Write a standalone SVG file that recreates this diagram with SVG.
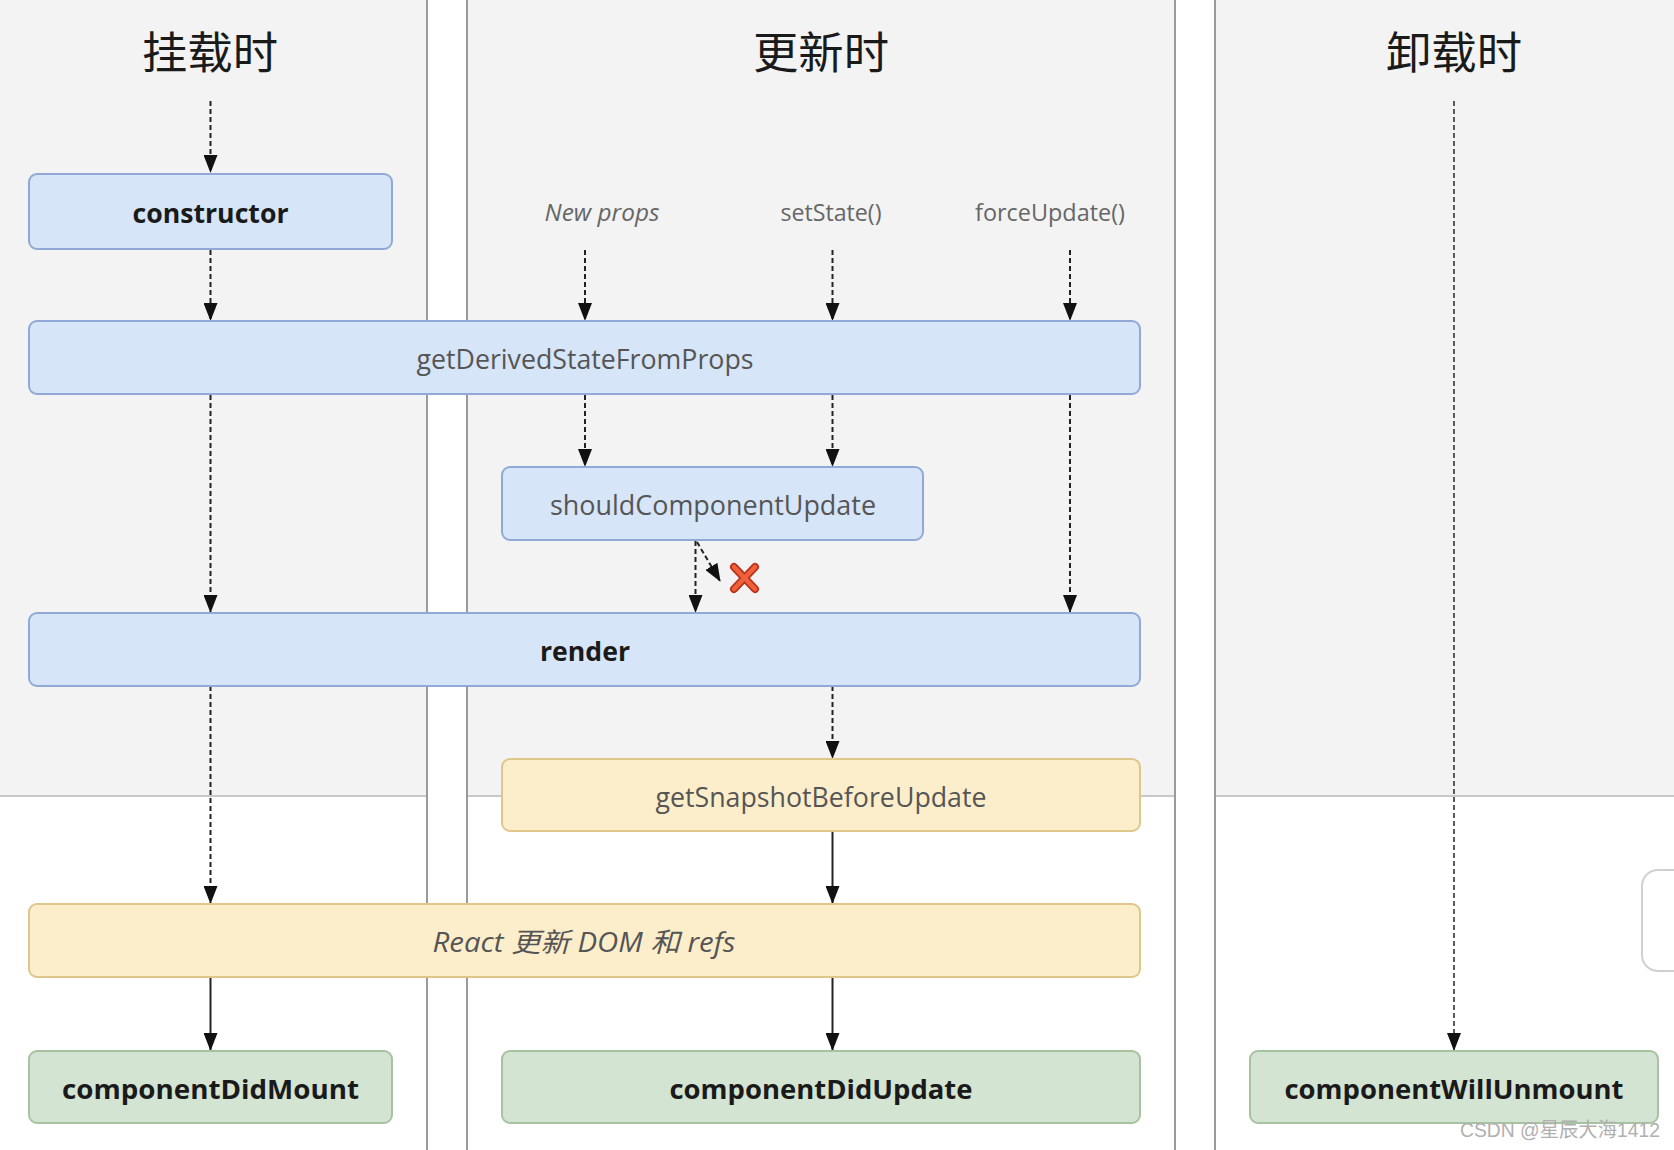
<svg xmlns="http://www.w3.org/2000/svg" width="1674" height="1150" viewBox="0 0 1674 1150">
<defs>
<marker id="ah" markerUnits="userSpaceOnUse" markerWidth="18" markerHeight="14" refX="17" refY="7" orient="auto" viewBox="0 0 18 14">
<path d="M0,0 L18,7 L0,14 Z" fill="#111"/>
</marker>
</defs>
<style>
.bg{fill:#f3f3f3}
.col{stroke:#9a9a9a;stroke-width:2;fill:none}
.hl{stroke:#c8c8c8;stroke-width:2}
.title{font-family:"Noto Sans CJK SC","Noto Sans",sans-serif;font-size:44px;fill:#1a1a1a;text-anchor:middle}
.blue{fill:#d7e5f8;stroke:#90a9d6;stroke-width:2}
.yellow{fill:#fdeecb;stroke:#dfc68a;stroke-width:2}
.green{fill:#d4e4d2;stroke:#a6c2a1;stroke-width:2}
.t{font-family:"Open Sans","Noto Sans","Noto Sans CJK SC",sans-serif;font-size:27px;text-anchor:middle;fill:#555}
.b{font-weight:bold;fill:#1a1a1a}
.i{font-style:italic}
.lbl{font-family:"Open Sans","Noto Sans",sans-serif;font-size:24px;text-anchor:middle;fill:#666}
.dash{stroke:#222;stroke-width:2;stroke-dasharray:5 3;fill:none}
.fdash{stroke:#333;stroke-width:1.6;stroke-dasharray:5 3;fill:none}
.solid{stroke:#222;stroke-width:2;fill:none}
.wm{font-family:"Liberation Sans","Noto Sans CJK SC",sans-serif;font-size:20px;fill:#b0b0b0}
</style>
<rect x="0" y="0" width="1674" height="1150" fill="#ffffff"/>
<g id="background">
<rect class="bg" x="0" y="0" width="427" height="795"/>
<rect class="bg" x="467" y="0" width="708" height="795"/>
<rect class="bg" x="1215" y="0" width="459" height="795"/>
<line class="hl" x1="0" y1="796" x2="427" y2="796"/>
<line class="hl" x1="467" y1="796" x2="1175" y2="796"/>
<line class="hl" x1="1215" y1="796" x2="1674" y2="796"/>
<line class="col" x1="427" y1="0" x2="427" y2="1150"/>
<line class="col" x1="467" y1="0" x2="467" y2="1150"/>
<line class="col" x1="1175" y1="0" x2="1175" y2="1150"/>
<line class="col" x1="1215" y1="0" x2="1215" y2="1150"/>
<rect x="1642" y="870" width="60" height="101" rx="16" fill="#ffffff" stroke="#d0d0d0" stroke-width="2"/>
</g>
<g id="titles">
<text class="title" x="210" y="69" textLength="136" lengthAdjust="spacingAndGlyphs">挂载时</text>
<text class="title" x="821" y="69" textLength="136" lengthAdjust="spacingAndGlyphs">更新时</text>
<text class="title" x="1454" y="69" textLength="136" lengthAdjust="spacingAndGlyphs">卸载时</text>
</g>
<g id="labels">
<text class="lbl i" x="602" y="221" textLength="115" lengthAdjust="spacingAndGlyphs">New props</text>
<text class="lbl" x="831" y="221" textLength="101" lengthAdjust="spacingAndGlyphs">setState()</text>
<text class="lbl" x="1050" y="221" textLength="150" lengthAdjust="spacingAndGlyphs">forceUpdate()</text>
</g>
<g id="connectors">
<line class="dash" x1="210.5" y1="101" x2="210.5" y2="172" marker-end="url(#ah)"/>
<line class="dash" x1="210.5" y1="250" x2="210.5" y2="320" marker-end="url(#ah)"/>
<line class="dash" x1="210.5" y1="395" x2="210.5" y2="612" marker-end="url(#ah)"/>
<line class="dash" x1="210.5" y1="686" x2="210.5" y2="903" marker-end="url(#ah)"/>
<line class="solid" x1="210.5" y1="978" x2="210.5" y2="1050" marker-end="url(#ah)"/>
<line class="dash" x1="585" y1="250" x2="585" y2="320" marker-end="url(#ah)"/>
<line class="dash" x1="585" y1="395" x2="585" y2="466" marker-end="url(#ah)"/>
<line class="dash" x1="832.5" y1="250" x2="832.5" y2="320" marker-end="url(#ah)"/>
<line class="dash" x1="832.5" y1="395" x2="832.5" y2="466" marker-end="url(#ah)"/>
<line class="dash" x1="832.5" y1="686" x2="832.5" y2="758" marker-end="url(#ah)"/>
<line class="solid" x1="832.5" y1="831" x2="832.5" y2="903" marker-end="url(#ah)"/>
<line class="solid" x1="832.5" y1="978" x2="832.5" y2="1050" marker-end="url(#ah)"/>
<line class="dash" x1="1070" y1="250" x2="1070" y2="320" marker-end="url(#ah)"/>
<line class="dash" x1="1070" y1="395" x2="1070" y2="612" marker-end="url(#ah)"/>
<line class="dash" x1="695.5" y1="541" x2="695.5" y2="612" marker-end="url(#ah)"/>
<line class="dash" x1="697" y1="542" x2="720" y2="581" marker-end="url(#ah)"/>
<line class="fdash" x1="1454" y1="101" x2="1454" y2="1050" marker-end="url(#ah)"/>
</g>
<g id="cancel-mark">
<path d="M734,567 L755,589 M755,567 L734,589" stroke="#b8341c" stroke-width="8" stroke-linecap="round" fill="none"/>
<path d="M734,567 L755,589 M755,567 L734,589" stroke="#f0603a" stroke-width="4.5" stroke-linecap="round" fill="none"/>
</g>
<g id="constructor">
<rect class="blue" x="29" y="174" width="363" height="75" rx="8"/>
<text class="t b" x="210.5" y="223" textLength="156" lengthAdjust="spacingAndGlyphs">constructor</text>
</g>
<g id="getDerivedStateFromProps">
<rect class="blue" x="29" y="321" width="1111" height="73" rx="8"/>
<text class="t" x="585" y="369" textLength="337" lengthAdjust="spacingAndGlyphs">getDerivedStateFromProps</text>
</g>
<g id="shouldComponentUpdate">
<rect class="blue" x="502" y="467" width="421" height="73" rx="8"/>
<text class="t" x="713" y="515" textLength="326" lengthAdjust="spacingAndGlyphs">shouldComponentUpdate</text>
</g>
<g id="render">
<rect class="blue" x="29" y="613" width="1111" height="73" rx="8"/>
<text class="t b" x="585" y="661" textLength="90" lengthAdjust="spacingAndGlyphs">render</text>
</g>
<g id="getSnapshotBeforeUpdate">
<rect class="yellow" x="502" y="759" width="638" height="72" rx="8"/>
<text class="t" x="821" y="807" textLength="331" lengthAdjust="spacingAndGlyphs">getSnapshotBeforeUpdate</text>
</g>
<g id="reactUpdateDom">
<rect class="yellow" x="29" y="904" width="1111" height="73" rx="8"/>
<text class="t i" x="584" y="952" textLength="303" lengthAdjust="spacingAndGlyphs">React 更新 DOM 和 refs</text>
</g>
<g id="componentDidMount">
<rect class="green" x="29" y="1051" width="363" height="72" rx="8"/>
<text class="t b" x="210.5" y="1099" textLength="297" lengthAdjust="spacingAndGlyphs">componentDidMount</text>
</g>
<g id="componentDidUpdate">
<rect class="green" x="502" y="1051" width="638" height="72" rx="8"/>
<text class="t b" x="821" y="1099" textLength="303" lengthAdjust="spacingAndGlyphs">componentDidUpdate</text>
</g>
<g id="componentWillUnmount">
<rect class="green" x="1250" y="1051" width="408" height="72" rx="8"/>
<text class="t b" x="1454" y="1099" textLength="339" lengthAdjust="spacingAndGlyphs">componentWillUnmount</text>
</g>
<text class="wm" x="1460" y="1137" textLength="200" lengthAdjust="spacingAndGlyphs">CSDN @星辰大海1412</text>
</svg>
